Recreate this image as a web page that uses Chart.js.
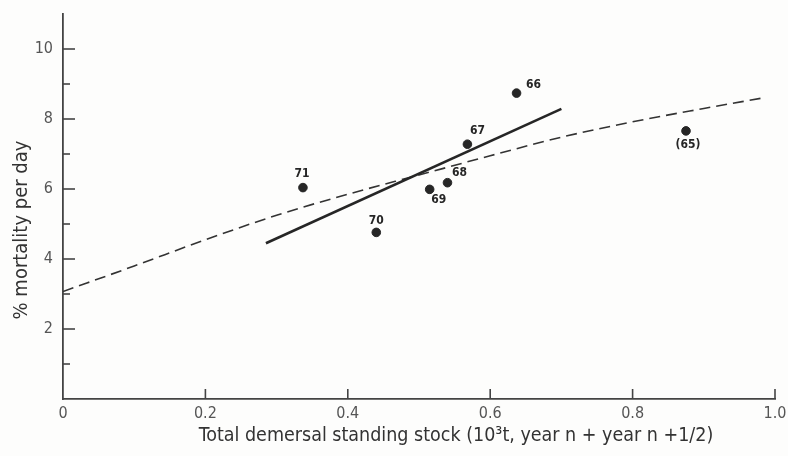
<!DOCTYPE html>
<html>
<head>
<meta charset="utf-8">
<script src="https://cdn.jsdelivr.net/npm/chart.js@4.4.0/dist/chart.umd.min.js"></script>
<style>
    html, body { margin: 0; padding: 0; background: #fdfdfc; }
    #wrap { width: 788px; height: 456px; }
</style>
</head>
<body>
<div id="wrap"><canvas id="mortalityChart"></canvas></div>
<script>
// Observed years (point labels) and values
const yearLabels = ['71', '70', '69', '68', '67', '66', '(65)'];
const stockValues = [0.337, 0.440, 0.515, 0.540, 0.568, 0.637, 0.875];
const mortalityValues = [6.04, 4.76, 5.99, 6.18, 7.28, 8.74, 7.66];

// Solid regression line (end points)
const fitX = [0.285, 0.700];
const fitY = [4.45, 8.29];

// Dashed curve
const curveX = [0, 0.1, 0.2, 0.3, 0.4, 0.5, 0.6, 0.7, 0.8, 0.9, 0.98];
const curveY = [3.07, 3.8, 4.55, 5.25, 5.85, 6.4, 6.95, 7.48, 7.92, 8.3, 8.59];

// Axis ticks
const xTicks = [0, 0.2, 0.4, 0.6, 0.8, 1.0];
const yTicks = [0, 1, 2, 3, 4, 5, 6, 7, 8, 9, 10];

const xTitle = 'Total demersal standing stock (10³t, year n + year n +1/2)';
const yTitle = '% mortality per day';

const ink = '#262626';
const axisInk = '#444';
const labelInk = '#555';
const fontFamily = '"DejaVu Sans Condensed", "DejaVu Sans", sans-serif';

// label offsets around each dot (dx, dy)
const labelOffsets = [[-1, -14], [0, -12], [9, 11], [12, -10], [10, -13], [17, -8], [2, 14]];

// Draw inward tick marks, axis titles and point labels
const extrasPlugin = {
    id: 'extras',
    afterDraw(chart) {
        const ctx = chart.ctx;
        const x = chart.scales.x;
        const y = chart.scales.y;
        const area = chart.chartArea;
        ctx.save();
        ctx.strokeStyle = axisInk;
        ctx.lineWidth = 1.6;
        xTicks.forEach(v => {
            if (v === 0) return;
            const px = x.getPixelForValue(v);
            ctx.beginPath();
            ctx.moveTo(px, area.bottom);
            ctx.lineTo(px, area.bottom - 10);
            ctx.stroke();
        });
        yTicks.forEach(v => {
            if (v === 0) return;
            const py = y.getPixelForValue(v);
            const len = v % 2 === 0 ? 12 : 7;
            ctx.beginPath();
            ctx.moveTo(area.left, py);
            ctx.lineTo(area.left + len, py);
            ctx.stroke();
        });

        // axis titles
        ctx.fillStyle = '#333';
        ctx.textAlign = 'center';
        ctx.textBaseline = 'middle';
        ctx.font = '19.5px ' + fontFamily;
        ctx.fillText(xTitle, 456, 436);
        ctx.save();
        ctx.translate(22, 230);
        ctx.rotate(-Math.PI / 2);
        ctx.font = '20px ' + fontFamily;
        ctx.fillText(yTitle, 0, 0);
        ctx.restore();

        // year labels next to the dots
        const meta = chart.getDatasetMeta(0);
        ctx.fillStyle = ink;
        ctx.font = '600 12px ' + fontFamily;
        meta.data.forEach((pt, i) => {
            const off = labelOffsets[i];
            ctx.fillText(yearLabels[i], pt.x + off[0], pt.y + off[1]);
        });
        ctx.restore();
    }
};

const ctx = document.getElementById('mortalityChart').getContext('2d');

new Chart(ctx, {
    type: 'scatter',
    data: {
        datasets: [
            {
                label: 'years',
                data: stockValues.map((v, i) => ({ x: v, y: mortalityValues[i] })),
                backgroundColor: ink,
                borderColor: ink,
                pointRadius: 4.3,
                showLine: false
            },
            {
                label: 'fit',
                data: fitX.map((v, i) => ({ x: v, y: fitY[i] })),
                borderColor: ink,
                borderWidth: 2.6,
                pointRadius: 0,
                showLine: true
            },
            {
                label: 'curve',
                data: curveX.map((v, i) => ({ x: v, y: curveY[i] })),
                borderColor: '#333',
                borderWidth: 1.6,
                borderDash: [11, 6],
                pointRadius: 0,
                showLine: true,
                cubicInterpolationMode: 'monotone'
            }
        ]
    },
    options: {
        responsive: true,
        maintainAspectRatio: false,
        animation: false,
        layout: { padding: { top: 14, right: 13, left: 0, bottom: 0 } },
        plugins: {
            legend: { display: false },
            tooltip: { enabled: false }
        },
        scales: {
            x: {
                type: 'linear',
                min: 0,
                max: 1,
                afterBuildTicks: scale => { scale.ticks = xTicks.map(v => ({ value: v })); },
                afterFit: scale => {
                    scale.height = 57;
                    scale.paddingLeft = 0;
                    scale.paddingRight = 0;
                },
                grid: { display: false, drawTicks: false },
                border: { display: true, color: axisInk, width: 1.8 },
                ticks: {
                    color: labelInk,
                    padding: 5,
                    font: { family: fontFamily, size: 16 },
                    callback: v => (v === 0 ? '0' : v.toFixed(1))
                }
            },
            y: {
                type: 'linear',
                min: 0,
                max: 11,
                afterBuildTicks: scale => { scale.ticks = yTicks.map(v => ({ value: v })); },
                afterFit: scale => {
                    scale.width = 63;
                    scale.paddingTop = 0;
                    scale.paddingBottom = 0;
                },
                grid: { display: false, drawTicks: false },
                border: { display: true, color: axisInk, width: 1.8 },
                ticks: {
                    color: labelInk,
                    padding: 10,
                    font: { family: fontFamily, size: 16 },
                    callback: v => (v !== 0 && v % 2 === 0 ? String(v) : '')
                }
            }
        }
    },
    plugins: [extrasPlugin]
});
</script>
</body>
</html>
